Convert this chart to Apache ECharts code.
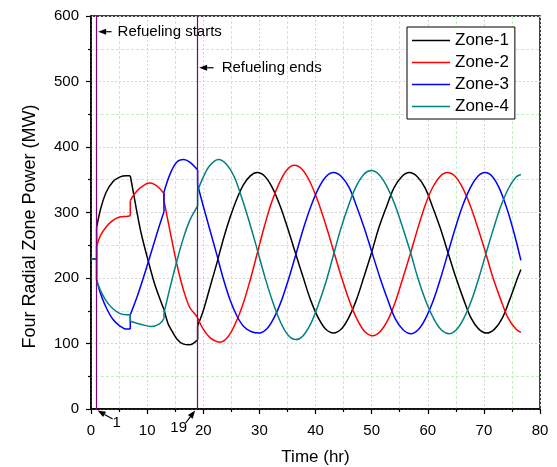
<!DOCTYPE html>
<html>
<head>
<meta charset="utf-8">
<script src="https://cdn.jsdelivr.net/npm/echarts@6/dist/echarts.min.js"></script>
<style>html,body{margin:0;padding:0;background:#fff}#c{width:557px;height:467px}</style>
</head>
<body>
<div id="c"></div>
<script>
// ---- data: [time (hr), power (MW)] ----
// A repeated time marks the instant a zone is refuelled (step or corner in the curve).
const seriesNames = ['Zone-1', 'Zone-2', 'Zone-3', 'Zone-4'];
const refuelEvents = [1, 19];
const xTicks = [0, 10, 20, 30, 40, 50, 60, 70, 80];
const yTicks = [0, 100, 200, 300, 400, 500, 600];

const zone1 = [[0,229],[1,229],[1,277],[1.7,305],[2.7,331],[3.9,347],[5.1,354],[6.3,356],[7.0,356],[7.0,356],[7.5,333],[8.2,300],[9.0,266],[10.2,226],[11.3,192],[12.5,163],[13.0,152],[13.0,152],[13.7,131],[14.1,124],[15.3,107],[16.5,99],[17.6,98],[18.8,104],[19.0,106],[19.0,127],[20.0,150],[21.2,186],[22.4,222],[23.6,260],[24.8,293],[26.0,321],[27.2,343],[28.4,356],[29.6,361],[31.0,355],[32.3,338],[33.7,310],[35.0,277],[36.4,239],[37.8,201],[39.1,167],[40.5,139],[41.8,122],[43.2,116],[44.6,122],[45.9,139],[47.3,167],[48.6,201],[50.0,239],[51.3,277],[52.7,310],[54.0,338],[55.4,355],[56.7,361],[58.1,355],[59.5,338],[60.8,310],[62.2,277],[63.6,239],[65.0,201],[66.4,167],[67.7,139],[69.1,122],[70.5,116],[71.9,122],[73.3,139],[74.6,167],[76.0,200],[76.6,213]];

const zone2 = [[0,229],[1,229],[1,249],[1.7,265],[2.7,278],[3.9,288],[5.1,293],[6.3,294],[7.0,295],[7.0,318],[7.8,329],[9.0,339],[10.4,345],[11.3,343],[12.2,337],[13.0,329],[13.0,318],[14.0,275],[15.3,221],[16.5,181],[17.6,155],[18.8,142],[19.0,139],[19.0,139],[20.0,122],[21.2,109],[22.4,103],[23.0,102],[24.3,109],[25.6,128],[27.0,158],[28.3,195],[29.6,237],[30.9,279],[32.2,316],[33.6,346],[34.9,365],[36.2,372],[37.6,366],[39.0,347],[40.4,318],[41.8,282],[43.2,242],[44.6,202],[46.0,166],[47.4,137],[48.8,118],[50.2,112],[51.5,118],[52.9,136],[54.2,163],[55.5,198],[56.9,237],[58.2,275],[59.5,310],[60.8,337],[62.2,355],[63.5,361],[64.9,355],[66.2,338],[67.6,310],[68.9,277],[70.3,239],[71.6,201],[73.0,167],[74.3,139],[75.7,122],[76.6,117]];

const zone3 = [[0,229],[1,229],[1,198],[1.7,176],[2.7,155],[3.9,137],[5.1,127],[6.3,122],[7.0,122],[7.0,144],[8.4,176],[10.3,227],[11.9,272],[13.0,301],[13.0,331],[14.1,359],[15.3,377],[16.5,381],[17.6,377],[18.8,367],[19.0,365],[19.0,342],[20.0,310],[21.2,273],[22.4,236],[23.6,198],[24.8,166],[26.0,142],[27.2,126],[28.6,118],[30.0,116],[31.3,122],[32.6,139],[34.0,167],[35.3,201],[36.6,239],[37.9,277],[39.2,310],[40.6,338],[41.9,355],[43.2,361],[44.6,355],[46.0,338],[47.3,310],[48.7,276],[50.1,238],[51.5,200],[52.9,166],[54.2,138],[55.6,121],[57.0,115],[58.3,121],[59.6,138],[61.0,166],[62.3,200],[63.6,238],[64.9,276],[66.2,310],[67.6,338],[68.9,355],[70.2,361],[71.5,355],[72.8,336],[74.1,306],[75.4,268],[76.6,227]];

const zone4 = [[0,229],[1,229],[1,196],[1.7,181],[2.7,165],[3.9,153],[5.1,146],[6.3,144],[7.0,144],[7.0,134],[9.0,129],[10.7,126],[12.2,130],[13.0,138],[13.0,146],[14.1,186],[15.3,226],[16.5,262],[17.6,288],[18.8,307],[19.0,310],[19.0,333],[20.0,354],[21.2,372],[22.7,381],[24.1,374],[25.5,355],[26.8,324],[28.2,286],[29.6,244],[31.0,201],[32.4,163],[33.8,132],[35.1,113],[36.5,106],[37.8,112],[39.2,131],[40.5,159],[41.9,195],[43.2,235],[44.5,275],[45.9,311],[47.2,339],[48.6,358],[49.9,364],[51.3,358],[52.7,340],[54.1,313],[55.5,278],[56.9,240],[58.2,201],[59.6,166],[61.0,139],[62.4,121],[63.8,115],[65.1,121],[66.4,138],[67.8,166],[69.1,200],[70.4,238],[71.7,275],[73.0,309],[74.4,337],[75.7,354],[76.6,358]];

const zoneColors = ['#000000', '#ff0000', '#0000ff', '#008080'];
const zoneData = [zone1, zone2, zone3, zone4];

const FONT = 'Liberation Sans, Arial, Helvetica, sans-serif';
const chart = echarts.init(document.getElementById('c'), null, {renderer: 'canvas'});

function axisCommon() {
  return {
    axisLine: {show: true, lineStyle: {color: '#000', width: 1.5}},
    axisTick: {show: true, inside: false, length: 5, lineStyle: {color: '#000', width: 1.2}},
    minorTick: {show: true, splitNumber: 2, length: 3, lineStyle: {color: '#000', width: 1.2}},
    splitLine: {show: true, lineStyle: {color: '#d2d2d2', type: [2, 2], width: 1}},
    minorSplitLine: {show: true, lineStyle: {color: '#bff2bf', type: [3, 2], width: 1}},
    axisLabel: {color: '#000', fontSize: 15, fontFamily: FONT, margin: 12},
    nameTextStyle: {color: '#000', fontFamily: FONT}
  };
}

const xAx = Object.assign(axisCommon(), {
  type: 'value', min: xTicks[0], max: xTicks[xTicks.length - 1], interval: xTicks[1] - xTicks[0],
  name: 'Time (hr)', nameLocation: 'middle', nameGap: 40
});
xAx.nameTextStyle.fontSize = 17;
xAx.axisLabel.margin = 14;
const yAx = Object.assign(axisCommon(), {
  type: 'value', min: yTicks[0], max: yTicks[yTicks.length - 1], interval: yTicks[1] - yTicks[0],
  name: 'Four Radial Zone Power (MW)', nameLocation: 'middle', nameGap: 52
});
yAx.nameTextStyle.fontSize = 18;
yAx.nameTextStyle.padding = [0, 28, 0, 0];

// split each zone into smooth pieces at the refuelling instants, joined by straight steps
const series = [];
zoneData.forEach((pts, i) => {
  const base = {name: seriesNames[i], type: 'line', showSymbol: false, symbol: 'none',
    lineStyle: {color: zoneColors[i], width: 1.5}, itemStyle: {color: zoneColors[i]}, z: 3};
  let seg = [pts[0]];
  const pushSeg = () => { if (seg.length > 1) series.push(Object.assign({}, base, {data: seg, smooth: 0.35})); };
  for (let k = 1; k < pts.length; k++) {
    if (pts[k][0] === pts[k - 1][0]) {
      pushSeg();
      if (pts[k][1] !== pts[k - 1][1]) series.push(Object.assign({}, base, {data: [pts[k - 1], pts[k]], smooth: false}));
      seg = [pts[k]];
    } else seg.push(pts[k]);
  }
  pushSeg();
});
series.push({
  type: 'line', data: [], silent: true, z: 4,
  markLine: {
    silent: true, symbol: ['none', 'none'], animation: false,
    label: {show: false},
    lineStyle: {color: '#800080', width: 1.2, type: 'solid'},
    data: refuelEvents.map(t => ({xAxis: t}))
  }
});

chart.setOption({
  animation: false,
  backgroundColor: '#fff',
  grid: {left: 91, right: 17, top: 16, bottom: 58, show: true, borderColor: '#000', borderWidth: 1.5,
    backgroundColor: 'transparent', containLabel: false, outerBoundsMode: 'none'},
  xAxis: xAx,
  yAxis: yAx,
  legend: {
    orient: 'vertical', left: 407, top: 27,
    backgroundColor: '#fff', borderColor: '#000', borderWidth: 1,
    padding: [5, 6, 4, 5], itemWidth: 38, itemHeight: 1.6, itemGap: 5,
    icon: 'rect',
    textStyle: {fontSize: 17, color: '#000', fontFamily: FONT, lineHeight: 17},
    data: seriesNames
  },
  series: series
});

// ---- annotations anchored to data coordinates ----
function px(x, y) { return chart.convertToPixel({gridIndex: 0}, [x, y]); }
function arrow(x1, y1, x2, y2) { // tail (x1,y1) -> tip (x2,y2)
  const dx = x2 - x1, dy = y2 - y1, L = Math.sqrt(dx * dx + dy * dy);
  const ux = dx / L, uy = dy / L, hl = 8, hw = 3;
  const bx = x2 - ux * hl, by = y2 - uy * hl;
  return [
    {type: 'line', shape: {x1: x1, y1: y1, x2: bx, y2: by}, style: {stroke: '#000', lineWidth: 1.2}, z: 10},
    {type: 'polygon', shape: {points: [[x2, y2], [bx - uy * hw, by + ux * hw], [bx + uy * hw, by - ux * hw]]}, style: {fill: '#000'}, z: 10}
  ];
}
const g = [];
const pS = px(refuelEvents[0], 576);
g.push(...arrow(pS[0] + 15, pS[1], pS[0] + 1.5, pS[1]));
g.push({type: 'text', x: pS[0] + 21, y: pS[1], style: {text: 'Refueling starts', fontSize: 15, fontFamily: FONT, fill: '#000', verticalAlign: 'middle', align: 'left'}, z: 10});
const pE = px(refuelEvents[1], 521);
g.push(...arrow(pE[0] + 16, pE[1], pE[0] + 1.5, pE[1]));
g.push({type: 'text', x: pE[0] + 24, y: pE[1], style: {text: 'Refueling ends', fontSize: 15, fontFamily: FONT, fill: '#000', verticalAlign: 'middle', align: 'left'}, z: 10});
const p1 = px(refuelEvents[0], 0);
g.push(...arrow(p1[0] + 16, p1[1] + 10, p1[0] + 1, p1[1] + 1.5));
g.push({type: 'text', x: p1[0] + 20, y: p1[1] + 14, style: {text: String(refuelEvents[0]), fontSize: 15, fontFamily: FONT, fill: '#000', verticalAlign: 'middle', align: 'center'}, z: 10});
const p19 = px(refuelEvents[1], 0);
g.push(...arrow(p19[0] - 12, p19[1] + 14, p19[0] - 2.5, p19[1] + 1.5));
g.push({type: 'text', x: p19[0] - 19, y: p19[1] + 19, style: {text: String(refuelEvents[1]), fontSize: 15, fontFamily: FONT, fill: '#000', verticalAlign: 'middle', align: 'center'}, z: 10});
chart.setOption({graphic: g});
</script>
</body>
</html>
